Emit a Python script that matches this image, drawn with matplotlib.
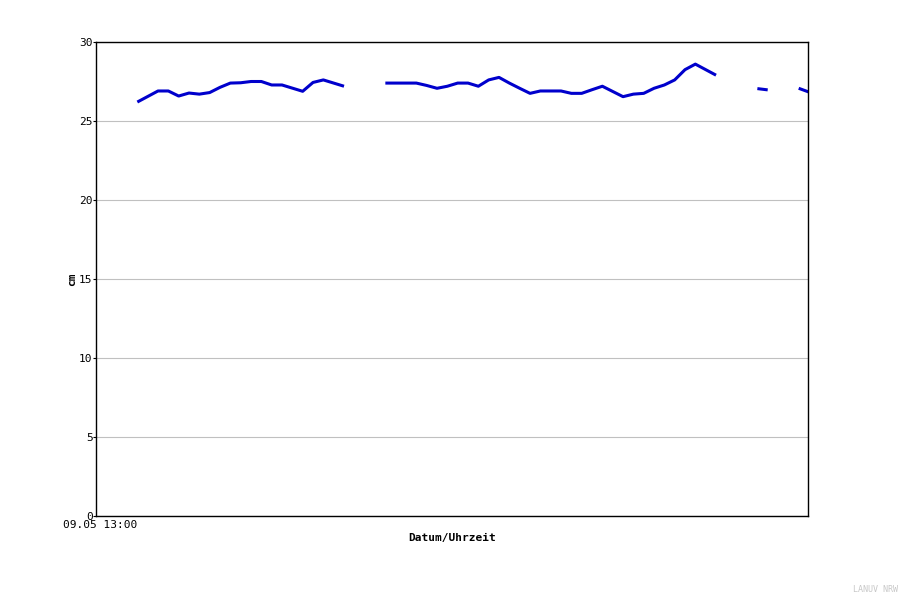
import numpy as np
import matplotlib
matplotlib.use("Agg")
import matplotlib.pyplot as plt

# hours after 09.05 13:00, hourly values in cm (nan = no data)
hours = list(range(4, 70))
values = [26.2, 26.55, 26.9, 26.9, 26.58, 26.77, 26.7, 26.8, 27.13, 27.4,
          27.42, 27.5, 27.5, 27.28, 27.28, 27.08, 26.88, 27.44, 27.6, 27.4,
          27.2, np.nan, np.nan, np.nan, 27.4, 27.4, 27.4, 27.4, 27.25, 27.07,
          27.2, 27.4, 27.4, 27.2, 27.6, 27.76, 27.4, 27.07, 26.75, 26.9,
          26.9, 26.9, 26.75, 26.75, 26.98, 27.2, 26.87, 26.54, 26.7, 26.75,
          27.07, 27.28, 27.6, 28.25, 28.6, 28.25, 27.9, np.nan, np.nan, np.nan,
          27.05, 26.97, np.nan, np.nan, 27.07, 26.83]
y_ticks = [0, 5, 10, 15, 20, 25, 30]
x_tick_label = "09.05 13:00"

plt.rcParams['font.family'] = 'DejaVu Sans Mono'

fig = plt.figure(figsize=(9.03, 6), dpi=100)
ax = fig.add_axes([96 / 903, 1 - 516 / 600, 712 / 903, 474 / 600])

ax.plot(hours, values, color='#0000CC', linewidth=2.2, solid_capstyle='butt')

ax.set_xlim(0, 68.9)
ax.set_ylim(0, 30)
ax.set_yticks(y_ticks)
ax.set_xticks([0.4])
ax.set_xticklabels([x_tick_label])
ax.yaxis.grid(True, color='#c0c0c0', linewidth=0.8)
ax.set_axisbelow(True)
ax.tick_params(axis='y', labelsize=8, length=2, width=0.8, pad=0.5)
ax.tick_params(axis='x', labelsize=8, length=0, pad=3)
for s in ax.spines.values():
    s.set_linewidth(1)

ax.set_ylabel("cm", fontsize=8, fontweight='bold', labelpad=1.5)
ax.set_xlabel("Datum/Uhrzeit", fontsize=8, fontweight='bold', labelpad=2)

fig.text(0.995, 0.01, "LANUV NRW", fontsize=6, color='#c8c8c8',
         ha='right', va='bottom')

fig.savefig("out.png", dpi=100)
